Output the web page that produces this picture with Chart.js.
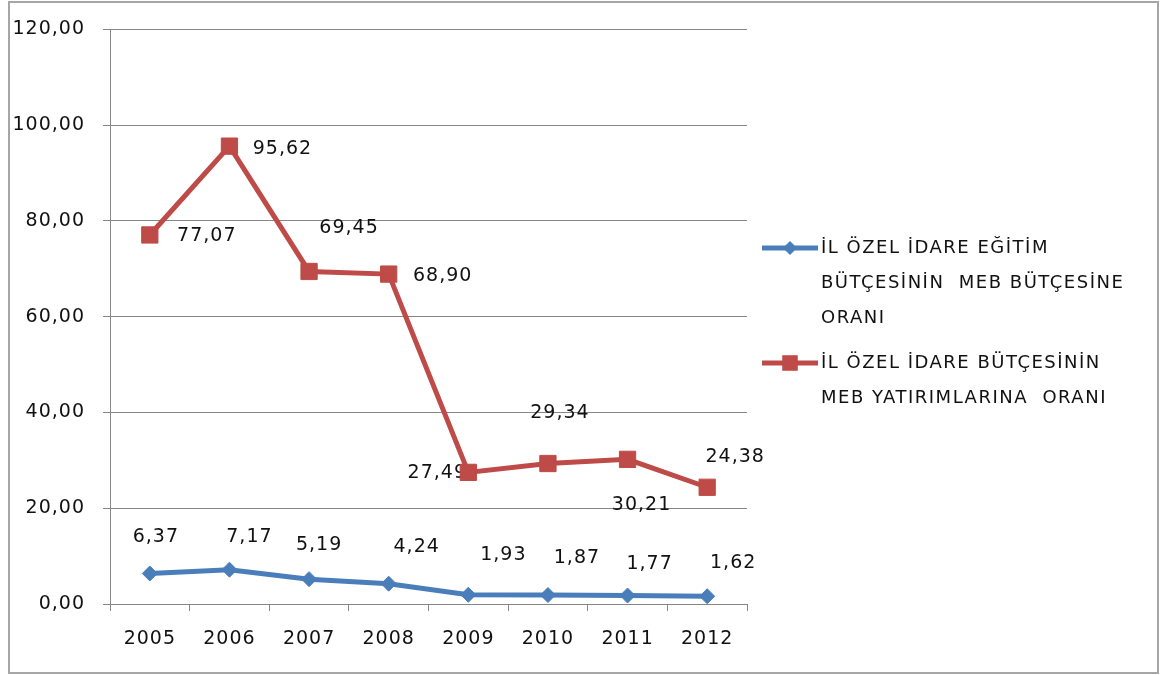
<!DOCTYPE html>
<html>
<head>
<meta charset="utf-8">
<script src="https://cdn.jsdelivr.net/npm/chart.js@4.4.1/dist/chart.umd.min.js"></script>
<style>
  html, body { margin: 0; padding: 0; background: #fff; }
  canvas { display: block; }
</style>
</head>
<body>
<canvas id="oranChart" width="1160" height="675"></canvas>
<script>
var years = ['2005', '2006', '2007', '2008', '2009', '2010', '2011', '2012'];
var egitimOrani = [6.37, 7.17, 5.19, 4.24, 1.93, 1.87, 1.77, 1.62];
var yatirimOrani = [77.07, 95.62, 69.45, 68.90, 27.49, 29.34, 30.21, 24.38];
var legendEgitim = ['İL ÖZEL İDARE EĞİTİM', 'BÜTÇESİNİN  MEB BÜTÇESİNE', 'ORANI'];
var legendYatirim = ['İL ÖZEL İDARE BÜTÇESİNİN', 'MEB YATIRIMLARINA  ORANI'];

// value labels were dragged around by hand, so each one gets its own nudge (px)
var egitimLabelShift = [[6, -36], [20, -33], [10, -34], [28, -37], [35, -40], [29, -37], [22, -31], [26, -33]];
var yatirimLabelShift = [[57, 1], [53, 3], [40, -43], [54, 2], [-31, 1], [12, -50], [14, 46], [28, -30]];

var BLUE = '#4A7EBB';
var RED = '#BE4B48';
var GRID = '#868686';
var INK = '#111';
var FONT = '"DejaVu Sans", Verdana, sans-serif';

function tr(v) {
  return Number(v).toFixed(2).replace('.', ',');
}

function marker(c, style, x, y, r) {
  c.beginPath();
  if (style === 'rect') {
    var s = r * Math.SQRT1_2;
    c.rect(x - s, y - s, 2 * s, 2 * s);
  } else {
    c.moveTo(x - r, y);
    c.lineTo(x, y - r);
    c.lineTo(x + r, y);
    c.lineTo(x, y + r);
    c.closePath();
  }
  c.fill();
}

// white page with the thin grey frame round it
var frame = {
  id: 'frame',
  beforeDraw: function(chart) {
    var c = chart.ctx;
    c.save();
    c.fillStyle = '#fff';
    c.fillRect(0, 0, chart.width, chart.height);
    c.strokeStyle = '#a6a6a6';
    c.lineWidth = 2;
    c.strokeRect(9, 2, 1149, 671);
    c.restore();
    c.letterSpacing = '1px';
  }
};

var valueLabels = {
  id: 'valueLabels',
  beforeDatasetsDraw: function(chart) {
    var c = chart.ctx;
    var shifts = [egitimLabelShift, yatirimLabelShift];
    c.save();
    c.font = '19px ' + FONT;
    c.letterSpacing = '1px';
    c.fillStyle = INK;
    c.textAlign = 'center';
    c.textBaseline = 'middle';
    chart.data.datasets.forEach(function(ds, i) {
      chart.getDatasetMeta(i).data.forEach(function(pt, j) {
        c.fillText(tr(ds.data[j]), pt.x + shifts[i][j][0], pt.y + shifts[i][j][1]);
      });
    });
    c.restore();
  }
};

var sideLegend = {
  id: 'sideLegend',
  afterDraw: function(chart) {
    var c = chart.ctx;
    var items = [
      { lines: legendEgitim, color: BLUE, style: 'rectRot', r: 7, y: 248 },
      { lines: legendYatirim, color: RED, style: 'rect', r: 11, y: 363 }
    ];
    c.save();
    c.font = '18px ' + FONT;
    c.letterSpacing = '1.5px';
    c.textAlign = 'left';
    c.textBaseline = 'middle';
    items.forEach(function(it) {
      c.strokeStyle = it.color;
      c.lineWidth = 5;
      c.beginPath();
      c.moveTo(762, it.y);
      c.lineTo(818, it.y);
      c.stroke();
      c.fillStyle = it.color;
      marker(c, it.style, 790, it.y, it.r);
      c.fillStyle = INK;
      it.lines.forEach(function(t, k) {
        c.fillText(t, 821, it.y + k * 35);
      });
    });
    c.restore();
  }
};

new Chart(document.getElementById('oranChart'), {
  type: 'line',
  data: {
    labels: years,
    datasets: [
      {
        label: legendEgitim.join(' '),
        data: egitimOrani,
        borderColor: BLUE,
        backgroundColor: BLUE,
        borderWidth: 5,
        tension: 0,
        pointStyle: 'rectRot',
        pointRadius: 7.5,
        pointBorderWidth: 1,
        pointBorderColor: BLUE,
        pointBackgroundColor: BLUE
      },
      {
        label: legendYatirim.join(' '),
        data: yatirimOrani,
        borderColor: RED,
        backgroundColor: RED,
        borderWidth: 5,
        tension: 0,
        pointStyle: 'rect',
        pointRadius: 11.5,
        pointBorderWidth: 1,
        pointBorderColor: RED,
        pointBackgroundColor: RED
      }
    ]
  },
  options: {
    responsive: false,
    animation: false,
    layout: { padding: { left: 0, top: 27, right: 413, bottom: 0 } },
    plugins: {
      legend: { display: false },
      tooltip: { enabled: false }
    },
    scales: {
      x: {
        offset: true,
        grid: { offset: true, drawOnChartArea: false, tickLength: 7, color: GRID },
        border: { color: GRID, width: 1 },
        ticks: { font: { size: 19, family: FONT }, color: INK, padding: 17 },
        afterFit: function(s) { s.height = 71; }
      },
      y: {
        min: 0,
        max: 120,
        grid: { color: GRID, tickLength: 7 },
        border: { color: GRID, width: 1 },
        ticks: {
          stepSize: 20,
          font: { size: 19, family: FONT },
          color: INK,
          padding: 18,
          callback: function(v) { return tr(v); }
        },
        afterFit: function(s) { s.width = 110; }
      }
    }
  },
  plugins: [frame, valueLabels, sideLegend]
});
</script>
</body>
</html>
